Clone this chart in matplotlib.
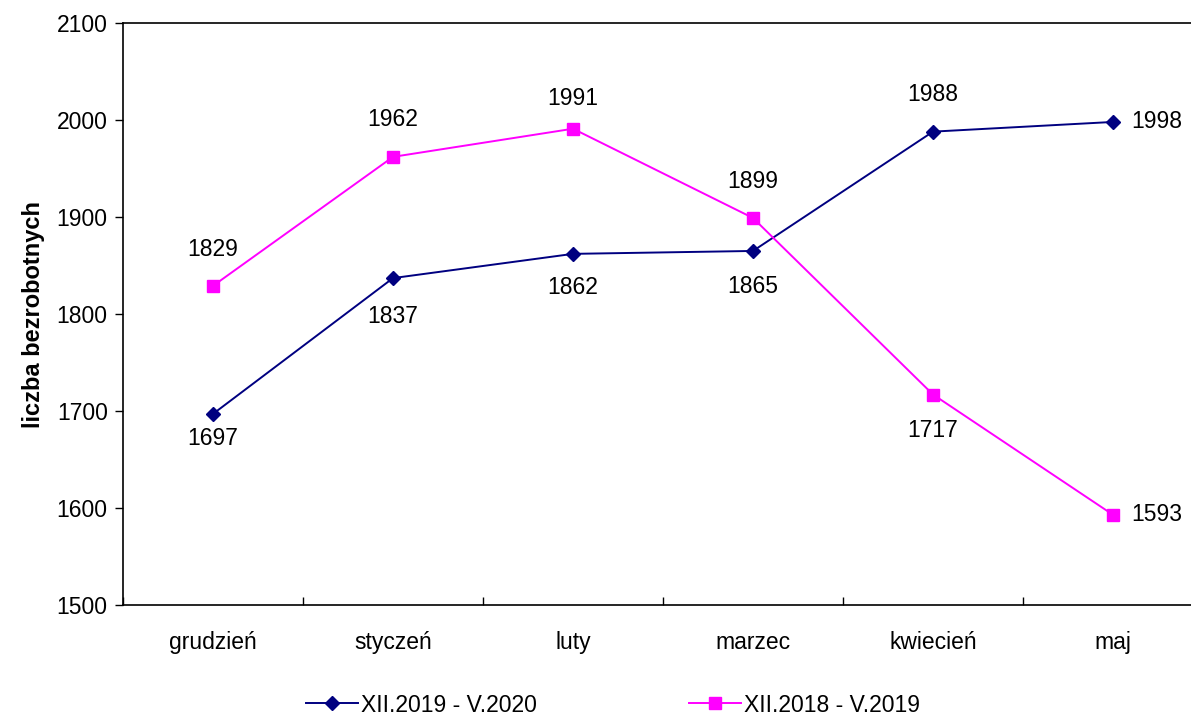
import matplotlib.pyplot as plt

plt.rcParams['font.family'] = ['Liberation Sans', 'DejaVu Sans']

miesiace = ['grudzień', 'styczeń', 'luty', 'marzec', 'kwiecień', 'maj']
seria_2020 = [1697, 1837, 1862, 1865, 1988, 1998]
seria_2019 = [1829, 1962, 1991, 1899, 1717, 1593]
nazwa_2020 = 'XII.2019 - V.2020'
nazwa_2019 = 'XII.2018 - V.2019'

# label placement: vertical shift in px (+ up), or None = to the right
przes_2020 = [-25, -38, -34, -36, 37, None]
przes_2019 = [36, 37, 30, 36, -36, None]

FS = 16.5
PX = 0.72  # px -> pt at dpi 100

fig = plt.figure(figsize=(11.91, 7.15), dpi=100)
ax = fig.add_axes([123 / 1191, 110 / 715, 1080 / 1191, 582 / 715])

x = list(range(len(miesiace)))
ax.plot(x, seria_2020, color='#000080', marker='D', markersize=7, lw=1.4, label=nazwa_2020)
ax.plot(x, seria_2019, color='#FF00FF', marker='s', markersize=9, lw=1.4, label=nazwa_2019)


def etykiety(wartosci, przes):
    for i, (v, d) in enumerate(zip(wartosci, przes)):
        if d is None:
            ax.annotate(str(v), (i, v), xytext=(18 * PX, 0), textcoords='offset points',
                        ha='left', va='center', fontsize=FS)
        else:
            ax.annotate(str(v), (i, v), xytext=(0, d * PX), textcoords='offset points',
                        ha='center', va='center', fontsize=FS)


etykiety(seria_2020, przes_2020)
etykiety(seria_2019, przes_2019)

ax.set_xlim(-0.5, len(miesiace) - 0.5)
ax.set_ylim(1500, 2100)
ax.set_yticks(range(1500, 2101, 100))
ax.set_xticks(x)
ax.set_xticklabels(miesiace)
ax.set_xticks([i - 0.5 for i in range(len(miesiace) + 1)], minor=True)
ax.tick_params(axis='x', which='major', length=0, pad=19, labelsize=FS)
ax.tick_params(axis='x', which='minor', length=6, direction='in', width=1)
ax.tick_params(axis='y', length=6, direction='out', width=1, labelsize=FS, pad=5)
for s in ['left', 'bottom', 'top']:
    ax.spines[s].set_linewidth(1.2)
ax.spines['right'].set_visible(False)
ax.set_ylabel('liczba bezrobotnych', fontsize=17, fontweight='bold')
ax.yaxis.set_label_coords(-78 / 1080, 0.5)

fig.legend(loc='center', bbox_to_anchor=(613 / 1191, 1 - 705 / 715), ncol=2, frameon=False,
           fontsize=FS, handlelength=2.27, handletextpad=0.15, columnspacing=6.6)

fig.savefig('out.png', dpi=100)
